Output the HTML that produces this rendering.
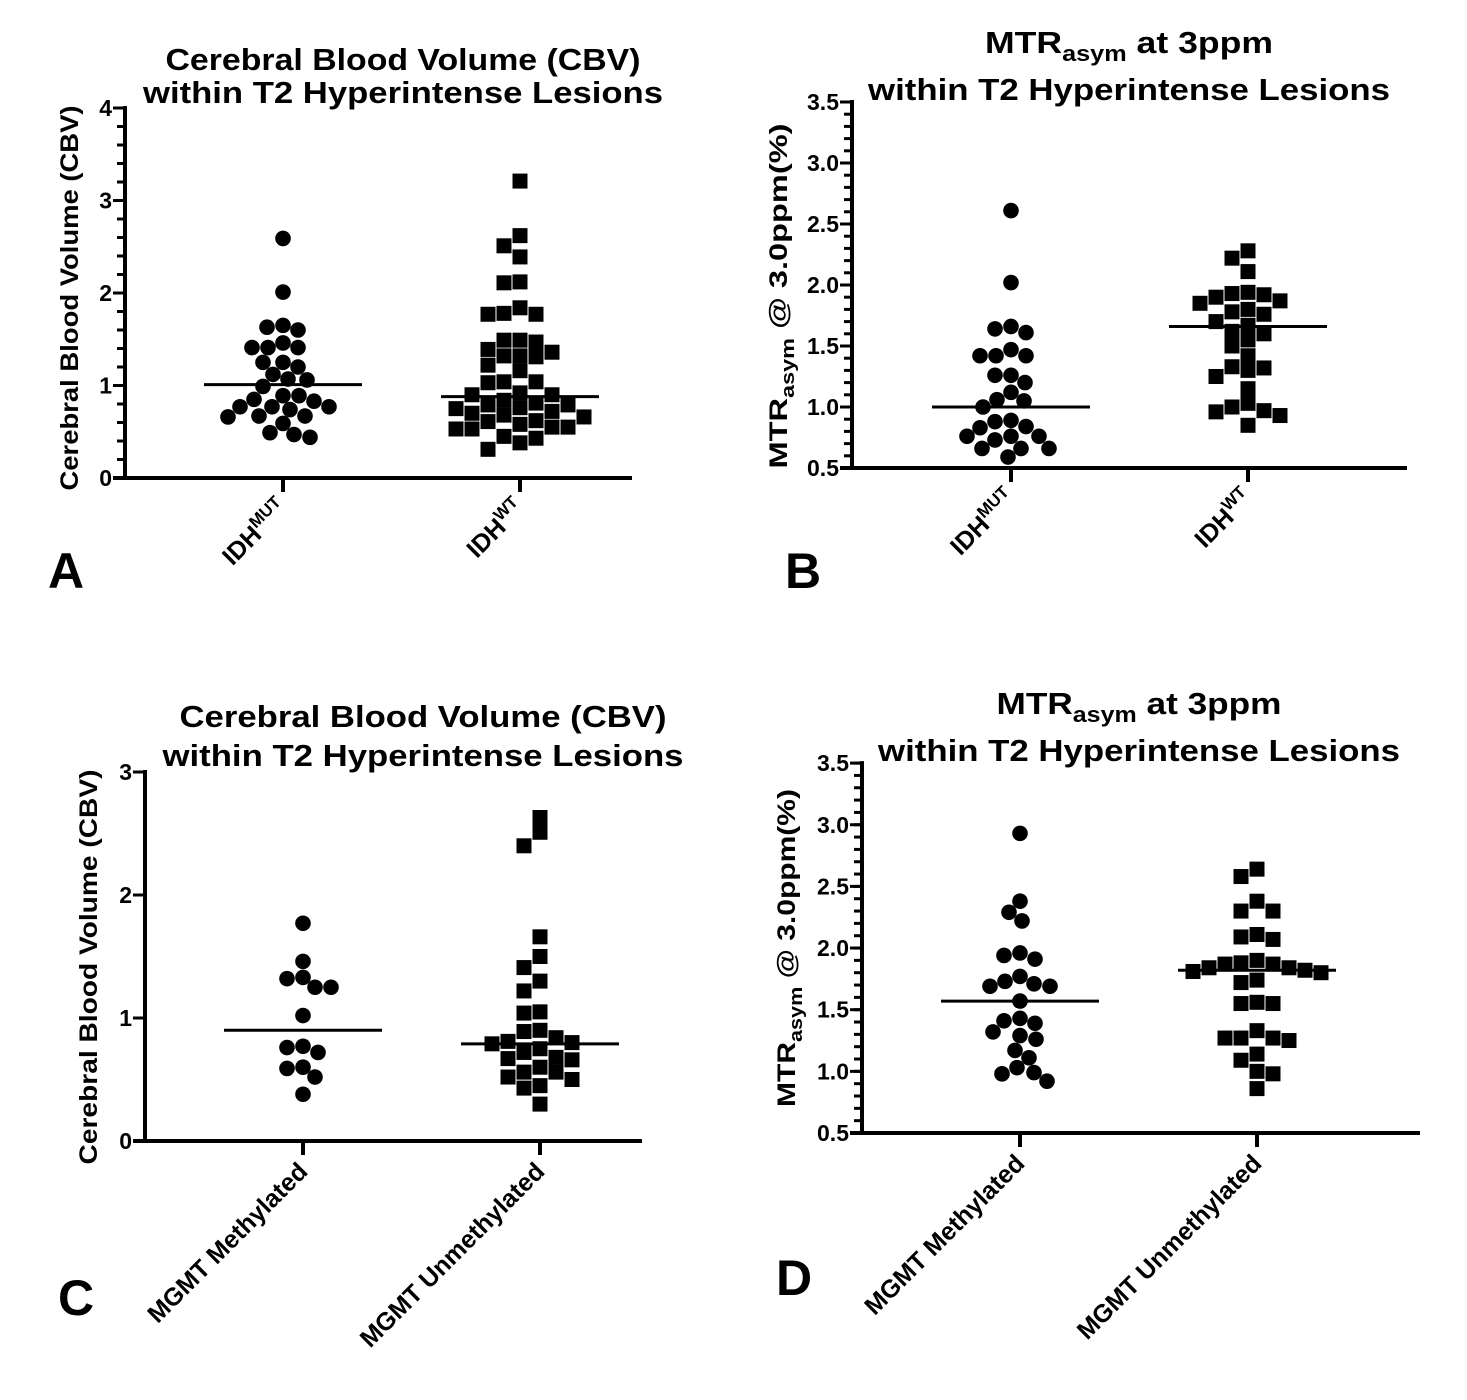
<!DOCTYPE html>
<html><head><meta charset="utf-8"><style>
html,body{margin:0;padding:0;background:#fff;}
svg{display:block;font-family:"Liberation Sans",Arial,sans-serif;font-weight:bold;}
</style></head><body>
<svg id="fig" width="1467" height="1400" viewBox="0 0 1467 1400" xmlns="http://www.w3.org/2000/svg"></svg>
<script>
// ---- data ----
const aCategories = ["MUT","WT"];
const aMut = [2.59,2.01,1.65,1.60,1.63,1.46,1.41,1.41,1.41,1.20,1.25,1.25,1.07,1.06,1.12,0.99,0.89,0.85,0.77,0.77,0.74,0.77,0.83,0.89,0.67,0.66,0.59,0.67,0.49,0.44,0.47];
const aWt = [3.21,2.62,2.51,2.39,2.11,2.12,1.84,1.77,1.77,1.78,1.49,1.47,1.49,1.36,1.32,1.31,1.32,1.39,1.22,1.16,1.04,1.03,1.04,0.92,0.90,0.81,0.84,0.90,0.79,0.79,0.75,0.76,0.68,0.70,0.61,0.62,0.55,0.55,0.53,0.53,0.43,0.45,0.38,0.31,0.72,0.66,0.58];
const aMeans = [1.01,0.88];
const aTicks = [0,1,2,3,4];

const bCategories = ["MUT","WT"];
const bMut = [2.61,2.02,1.64,1.66,1.61,1.42,1.47,1.42,1.42,1.26,1.26,1.20,1.12,1.05,1.06,1.00,0.89,0.84,0.83,0.88,0.76,0.73,0.76,0.76,0.66,0.66,0.66,0.59];
const bWt = [2.28,2.22,2.11,1.94,1.93,1.92,1.90,1.87,1.85,1.80,1.78,1.76,1.70,1.67,1.62,1.60,1.55,1.50,1.42,1.33,1.32,1.30,1.25,1.15,1.03,1.00,0.97,0.96,0.93,0.85];
const bMeans = [1.00,1.66];
const bTicks = [0.5,1.0,1.5,2.0,2.5,3.0,3.5];

const cCategories = ["MGMT Methylated","MGMT Unmethylated"];
const cMeth = [1.77,1.46,1.32,1.33,1.25,1.25,1.02,0.76,0.77,0.72,0.60,0.59,0.52,0.38];
const cUnmeth = [2.63,2.51,2.40,1.66,1.50,1.41,1.30,1.22,1.04,1.05,0.90,0.89,0.81,0.79,0.80,0.84,0.75,0.72,0.68,0.66,0.60,0.67,0.56,0.56,0.52,0.50,0.45,0.43,0.30];
const cMeans = [0.90,0.79];
const cTicks = [0,1,2,3];

const dCategories = ["MGMT Methylated","MGMT Unmethylated"];
const dMeth = [2.93,2.38,2.29,2.22,1.94,1.96,1.91,1.71,1.69,1.77,1.69,1.73,1.57,1.43,1.39,1.41,1.32,1.26,1.29,1.17,1.11,0.99,0.98,1.03,0.92];
const dUnmeth = [2.64,2.58,2.38,2.30,2.30,2.09,2.07,2.11,1.87,1.84,1.82,1.88,1.90,1.80,1.81,1.84,1.87,1.72,1.74,1.55,1.55,1.56,1.27,1.27,1.33,1.25,1.27,1.14,1.09,1.00,0.98,0.86];
const dMeans = [1.57,1.82];
const dTicks = [0.5,1.0,1.5,2.0,2.5,3.0,3.5];

const NS = "http://www.w3.org/2000/svg";
const svg = document.getElementById("fig");
function mk(tag, attrs, parent){
  const e = document.createElementNS(NS, tag);
  for (const k in attrs) e.setAttribute(k, attrs[k]);
  (parent||svg).appendChild(e);
  return e;
}

function beeswarm(vals, yScale, cx, shape){
  const order = vals.map((v,i)=>i).sort((a,b)=>vals[b]-vals[a]);
  const placed = [];
  const D = 15.5;
  const out = new Array(vals.length);
  order.forEach(i=>{
    const y = yScale(vals[i]);
    let chosen = 0;
    for (let k=0;k<400;k++){
      const dx = (k%2===0?1:-1)*Math.ceil(k/2);
      const x = cx+dx;
      let ok = true;
      for (const p of placed){
        if (shape==="circle"){ if (Math.hypot(p.x-x,p.y-y) < D){ok=false;break;} }
        else { if (Math.abs(p.x-x)<D && Math.abs(p.y-y)<D-1){ok=false;break;} }
      }
      if (ok){chosen=x;break;}
    }
    placed.push({x:chosen,y});
    out[i]={x:chosen,y};
  });
  return out;
}

function panel(p){
  const g = mk("g",{});
  
  
  const yScale = v => p.y0 - (v - p.vmin) * p.ppu;
  const xScale = i => p.cats[i];
  const yTop = yScale(p.ticks[p.ticks.length-1]);
  p.title.forEach((t,i)=>{
    const tt = mk("text",{x:p.tcx,y:p.tby[i],"text-anchor":"middle","font-size":31,textLength:t.w,lengthAdjust:"spacingAndGlyphs"},g);
    
    
    if (t.sub){
      tt.appendChild(document.createTextNode("MTR"));
      const s = mk("tspan",{"font-size":22,dy:8},tt); s.textContent="asym";
      const r = mk("tspan",{dy:-8},tt); r.textContent=" at 3ppm";
    } else tt.textContent = t.s;
  });
  const yl = mk("text",{transform:`translate(${p.ylx},${p.yly}) rotate(-90)`,"text-anchor":"middle","font-size":25,textLength:p.ylw,lengthAdjust:"spacingAndGlyphs"},g);
  
  
  if (p.ylSub){
    yl.appendChild(document.createTextNode("MTR"));
    const s = mk("tspan",{"font-size":18,dy:7},yl); s.textContent="asym";
    const r = mk("tspan",{dy:-7},yl); r.textContent=" @ 3.0ppm(%)";
  } else yl.textContent = p.ylText;
  const ax = mk("line",{x1:p.ax,y1:yTop-2,x2:p.ax,y2:p.y0+2,stroke:"#000","stroke-width":4},g);
  
  
  const xa = mk("line",{x1:p.ax-12,y1:p.y0,x2:p.xend,y2:p.y0,stroke:"#000","stroke-width":4},g);
  
  
  if (p.minor){
    const lo=p.ticks[0], hi=p.ticks[p.ticks.length-1];
    const n = Math.round((hi-lo)/p.minor);
    for (let k=0;k<=n;k++){
      const v = lo + k*p.minor;
      const m = mk("line",{x1:p.ax-8,y1:yScale(v),x2:p.ax,y2:yScale(v),stroke:"#000","stroke-width":3},g);
      
      
    }
  }
  p.ticks.forEach(v=>{
    const t = mk("line",{x1:p.ax-12,y1:yScale(v),x2:p.ax,y2:yScale(v),stroke:"#000","stroke-width":3},g);
    
    
    const l = mk("text",{x:p.ax-13,y:yScale(v)+8,"text-anchor":"end","font-size":23},g);
    
    
    l.textContent = p.tickFmt(v);
  });
  p.cats.forEach((cx,i)=>{
    const t = mk("line",{x1:cx,y1:p.y0,x2:cx,y2:p.y0+14,stroke:"#000","stroke-width":4},g);
    
    
    const l = mk("text",{transform:`translate(${cx+6},${p.y0+32}) rotate(-45)`,"text-anchor":"end","font-size":25},g);
    
    
    const lab = p.labels[i];
    if (lab.sup){
      l.appendChild(document.createTextNode("IDH"));
      const s = mk("tspan",{"font-size":17,dy:-10},l); s.textContent=lab.sup;
    } else l.textContent = lab.s;
  });
  p.series.forEach((vals,i)=>{
    const shape = i===0?"circle":"square";
    const pos = beeswarm(vals, yScale, xScale(i), shape);
    pos.forEach(q=>{
      let e;
      if (shape==="circle") e = mk("circle",{cx:q.x,cy:q.y,r:7.8,fill:"#000"},g);
      else e = mk("rect",{x:q.x-7.5,y:q.y-7.5,width:15,height:15,fill:"#000"},g);
      
      
    });
  });
  p.means.forEach((m,i)=>{
    const cx = xScale(i);
    const e = mk("line",{x1:cx-79,y1:yScale(m),x2:cx+79,y2:yScale(m),stroke:"#000","stroke-width":3},g);
    
    
  });
  const L = mk("text",{x:p.letter[0],y:p.letter[1],"font-size":50},g);
  
  
  L.textContent = p.letter[2];
}

const f0 = v=>String(v), f1 = v=>v.toFixed(1);
panel({name:"panel-a", y0:478, vmin:0, ppu:92.5, ax:125, xend:632, cats:[283,520], ticks:aTicks, minor:0.2, tickFmt:f0,
  series:[aMut,aWt], means:aMeans, labels:[{sup:"MUT"},{sup:"WT"}],
  title:[{s:"Cerebral Blood Volume (CBV)",w:475},{s:"within T2 Hyperintense Lesions",w:520}], tcx:403, tby:[70,103],
  ylText:"Cerebral Blood Volume (CBV)", ylx:78, yly:298, ylw:385, letter:[48,588,"A"]});
panel({name:"panel-b", y0:468, vmin:0.5, ppu:122, ax:852, xend:1407, cats:[1011,1248], ticks:bTicks, minor:0.1, tickFmt:f1,
  series:[bMut,bWt], means:bMeans, labels:[{sup:"MUT"},{sup:"WT"}],
  title:[{sub:true,w:288},{s:"within T2 Hyperintense Lesions",w:522}], tcx:1129, tby:[53,100],
  ylSub:true, ylx:787, yly:296, ylw:345, letter:[785,588,"B"]});
panel({name:"panel-c", y0:1141, vmin:0, ppu:123, ax:145, xend:642, cats:[303,540], ticks:cTicks, minor:0, tickFmt:f0,
  series:[cMeth,cUnmeth], means:cMeans, labels:[{s:"MGMT Methylated"},{s:"MGMT Unmethylated"}],
  title:[{s:"Cerebral Blood Volume (CBV)",w:487},{s:"within T2 Hyperintense Lesions",w:521}], tcx:423, tby:[727,766],
  ylText:"Cerebral Blood Volume (CBV)", ylx:97, yly:967, ylw:395, letter:[58,1315,"C"]});
panel({name:"panel-d", y0:1133, vmin:0.5, ppu:123.3, ax:862, xend:1420, cats:[1020,1257], ticks:dTicks, minor:0.1, tickFmt:f1,
  series:[dMeth,dUnmeth], means:dMeans, labels:[{s:"MGMT Methylated"},{s:"MGMT Unmethylated"}],
  title:[{sub:true,w:285},{s:"within T2 Hyperintense Lesions",w:522}], tcx:1139, tby:[714,761],
  ylSub:true, ylx:795, yly:948, ylw:318, letter:[776,1295,"D"]});
</script>
</body></html>
